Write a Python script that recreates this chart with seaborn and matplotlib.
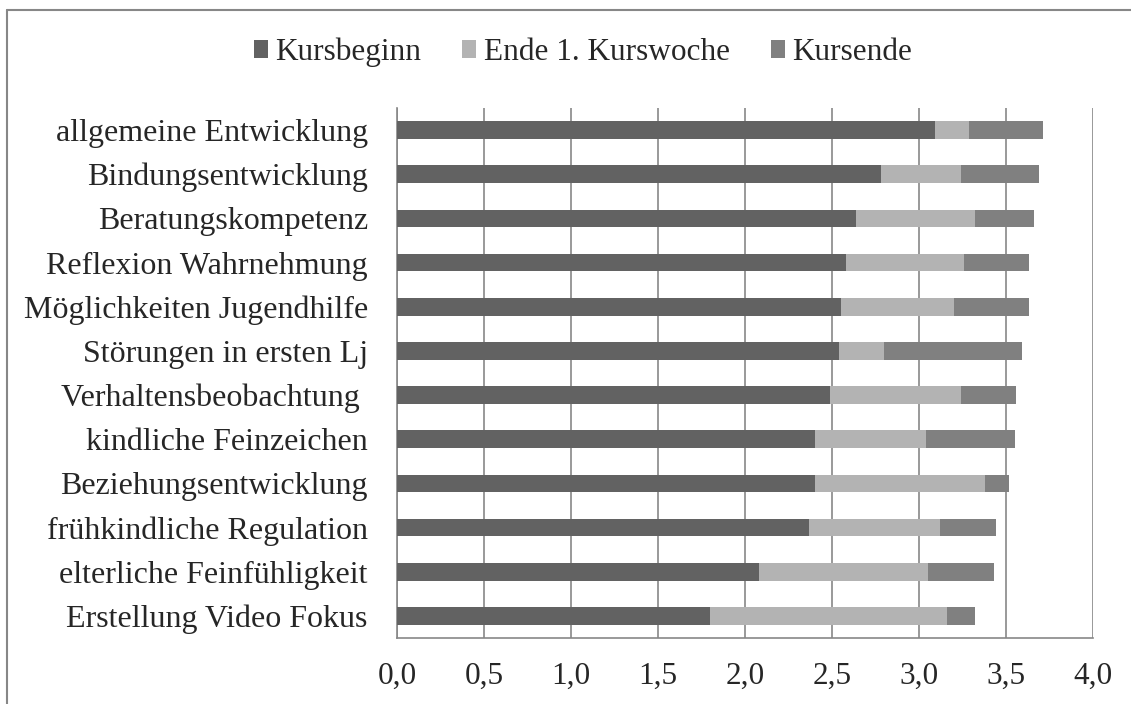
import numpy as np
import pandas as pd
import matplotlib
matplotlib.use("Agg")
import matplotlib.pyplot as plt
from matplotlib.lines import Line2D
from matplotlib.patches import Patch
import seaborn as sns

categories = [
    "allgemeine Entwicklung",
    "Bindungsentwicklung",
    "Beratungskompetenz",
    "Reflexion Wahrnehmung",
    "Möglichkeiten Jugendhilfe",
    "Störungen in ersten Lj",
    "Verhaltensbeobachtung ",
    "kindliche Feinzeichen",
    "Beziehungsentwicklung",
    "frühkindliche Regulation",
    "elterliche Feinfühligkeit",
    "Erstellung Video Fokus",
]
kursbeginn = [3.09, 2.78, 2.64, 2.58, 2.55, 2.54, 2.49, 2.40, 2.40, 2.37, 2.08, 1.80]
ende_woche1 = [0.20, 0.46, 0.68, 0.68, 0.65, 0.26, 0.75, 0.64, 0.98, 0.75, 0.97, 1.36]
kursende = [0.42, 0.45, 0.34, 0.37, 0.43, 0.79, 0.32, 0.51, 0.14, 0.32, 0.38, 0.16]
series_names = ["Kursbeginn", "Ende 1. Kurswoche", "Kursende"]
xticks = [0.0, 0.5, 1.0, 1.5, 2.0, 2.5, 3.0, 3.5, 4.0]

colors = ["#626262", "#b3b3b3", "#808080"]
gray = "#878787"

sns.set_style("white")
plt.rcParams["font.family"] = ["Liberation Serif", "DejaVu Serif"]

df = pd.DataFrame({
    "cat": categories,
    "s1": kursbeginn,
    "s2": ende_woche1,
    "s3": kursende,
})
df["c1"] = df["s1"]
df["c2"] = df["s1"] + df["s2"]
df["c3"] = df["s1"] + df["s2"] + df["s3"]

W, H = 1131, 704
fig = plt.figure(figsize=(W / 100, H / 100), dpi=100)
ax = fig.add_axes([397 / W, 1 - 638 / H, (1093 - 397) / W, (638 - 108) / H])

for col, c in zip(["c3", "c2", "c1"], [colors[2], colors[1], colors[0]]):
    sns.barplot(data=df, x=col, y="cat", orient="h", color=c, width=0.4,
                ax=ax, linewidth=0, saturation=1, zorder=3)

ax.set_xlim(0, 4)
ax.set_ylim(11.5, -0.5)
ax.set_xlabel("")
ax.set_ylabel("")

ax.set_xticks(xticks)
ax.set_xticklabels([f"{v:.1f}".replace(".", ",") for v in xticks], fontsize=22.5)
ax.tick_params(axis="x", direction="out", length=6.5, width=1, color=gray, pad=11)
ax.xaxis.grid(True, color=gray, linewidth=1.2, zorder=0)
ax.set_axisbelow(True)

ax.set_yticks(range(len(categories)))
ax.set_yticklabels(categories, fontsize=23)
ax.tick_params(axis="y", which="major", length=0, pad=21)
ax.set_yticks(np.arange(-0.5, len(categories), 1), minor=True)
ax.tick_params(axis="y", which="minor", direction="out", length=6, width=1.2, color=gray)

for s in ["top", "right"]:
    ax.spines[s].set_visible(False)
for s in ["left", "bottom"]:
    ax.spines[s].set_color(gray)
    ax.spines[s].set_linewidth(1.2)

handles = [Patch(facecolor=c, edgecolor="none") for c in colors]
fig.legend(handles, series_names, loc="center", bbox_to_anchor=(583 / W, 1 - 52 / H),
           ncol=3, frameon=False, fontsize=22.5, handlelength=0.45, handleheight=0.5,
           handletextpad=0.25, columnspacing=1.3, borderaxespad=0)

# outer chart frame (top and left visible)
fig.add_artist(Line2D([7 / W, 1], [1 - 10 / H, 1 - 10 / H], transform=fig.transFigure,
                      color=gray, linewidth=1.5))
fig.add_artist(Line2D([7 / W, 7 / W], [0, 1 - 10 / H], transform=fig.transFigure,
                      color=gray, linewidth=1.5))

fig.savefig("out.png", dpi=100, facecolor="white")
